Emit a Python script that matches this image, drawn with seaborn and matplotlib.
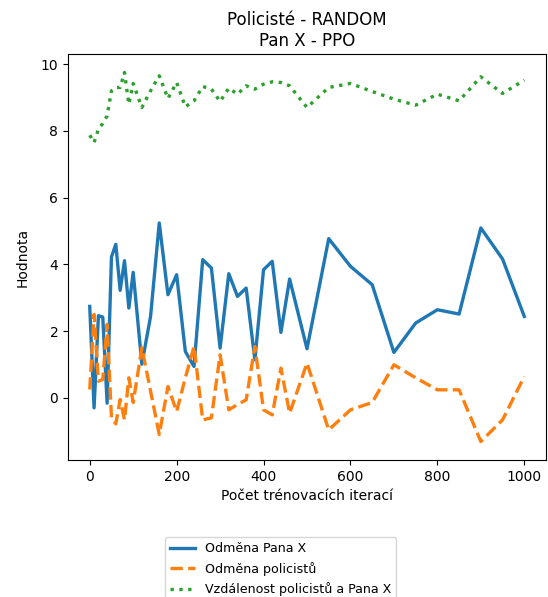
import matplotlib
matplotlib.use("Agg")
import matplotlib.pyplot as plt
import pandas as pd
import seaborn as sns

iterations = [0, 10, 20, 30, 40, 50, 60, 70, 80, 90, 100,
              120, 140, 160, 180, 200, 220, 240, 260, 280, 300,
              320, 340, 360, 380, 400, 420, 440, 460,
              500, 550, 600, 650, 700, 750, 800, 850, 900, 950, 1000]

reward_pan_x = [2.74, -0.30, 2.46, 2.42, -0.16, 4.22, 4.60, 3.22, 4.11, 2.69, 3.76,
                1.01, 2.44, 5.24, 3.09, 3.69, 1.39, 0.94, 4.14, 3.89, 1.49,
                3.72, 3.04, 3.29, 1.14, 3.84, 4.09, 1.96, 3.56,
                1.47, 4.77, 3.94, 3.39, 1.36, 2.24, 2.64, 2.51, 5.09, 4.16, 2.44]

reward_police = [0.25, 2.50, 0.50, 0.55, 2.20, -0.60, -0.78, -0.05, -0.66, 0.60, -0.14,
                 1.50, 0.20, -1.10, 0.34, -0.41, 0.60, 1.54, -0.66, -0.60, 1.29,
                 -0.36, -0.20, -0.06, 1.54, -0.36, -0.51, 0.89, -0.46,
                 1.04, -0.96, -0.36, -0.14, 0.99, 0.60, 0.24, 0.24, -1.31, -0.66, 0.64]

distance = [7.87, 7.65, 8.05, 8.22, 8.45, 9.20, 9.30, 9.30, 9.75, 8.80, 9.42,
            8.70, 9.20, 9.65, 8.97, 9.45, 8.72, 8.90, 9.33, 9.25, 8.88,
            9.28, 9.10, 9.35, 9.25, 9.40, 9.47, 9.45, 9.35,
            8.70, 9.30, 9.42, 9.18, 8.95, 8.77, 9.10, 8.90, 9.62, 9.12, 9.52]

labels = ["Odměna Pana X", "Odměna policistů", "Vzdálenost policistů a Pana X"]

df = pd.DataFrame({"iterace": iterations,
                   labels[0]: reward_pan_x,
                   labels[1]: reward_police,
                   labels[2]: distance})

fig = plt.figure(figsize=(5.48, 5.97), dpi=100)
ax = fig.add_axes([68 / 548, 1 - 460 / 597, 478 / 548, 406 / 597])

styles = ["-", "--", ":"]
colors = sns.color_palette("tab10", 3)
for lab, ls, c in zip(labels, styles, colors):
    sns.lineplot(data=df, x="iterace", y=lab, ax=ax, color=c, linestyle=ls,
                 linewidth=2.4, label=lab, legend=False)

ax.set_title("Policisté - RANDOM\nPan X - PPO", fontsize=12)
ax.set_xlabel("Počet trénovacích iterací")
ax.set_ylabel("Hodnota", labelpad=8)

handles, labs = ax.get_legend_handles_labels()
fig.legend(handles, labs, loc="upper center", bbox_to_anchor=(0.512, 1 - 531 / 597),
           fontsize=9.1)

fig.savefig("out.png", dpi=100)
